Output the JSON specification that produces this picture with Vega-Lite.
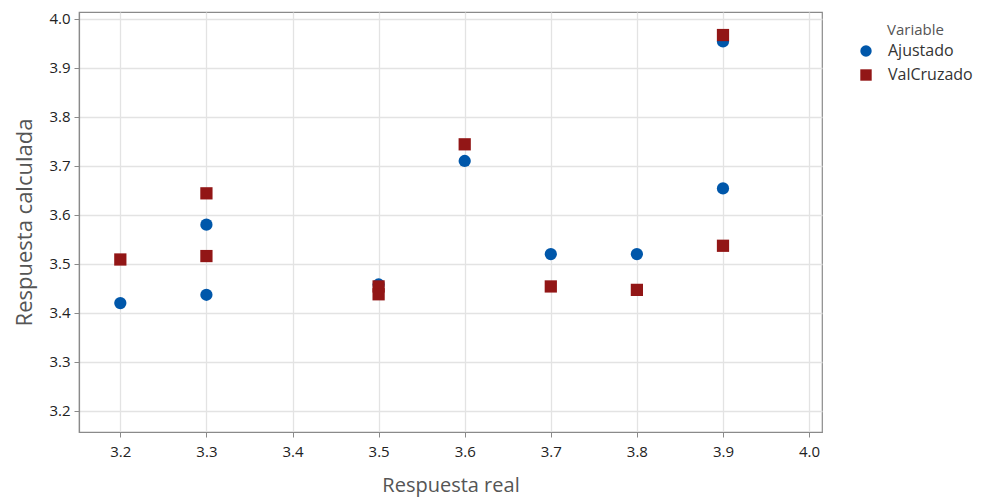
{
  "$schema": "https://vega.github.io/schema/vega-lite/v6.json",
  "autosize": "none",
  "width": 743,
  "height": 420,
  "padding": {"left": 79, "top": 12, "right": 164, "bottom": 68},
  "background": "white",
  "config": {
    "font": "Open Sans",
    "view": {"stroke": "#8a8a8a", "strokeWidth": 1.2},
    "axis": {
      "gridColor": "#e3e3e3",
      "gridWidth": 1.3,
      "domainColor": "#8a8a8a",
      "domainWidth": 1.2,
      "tickColor": "#8a8a8a",
      "tickSize": 5,
      "labelFontSize": 15,
      "labelColor": "#222222",
      "titleFontWeight": "normal",
      "titleColor": "#555555"
    }
  },
  "data": {
    "values": [
      {"real": 3.2, "calc": 3.42, "Variable": "Ajustado"},
      {"real": 3.3, "calc": 3.58, "Variable": "Ajustado"},
      {"real": 3.3, "calc": 3.437, "Variable": "Ajustado"},
      {"real": 3.5, "calc": 3.458, "Variable": "Ajustado"},
      {"real": 3.6, "calc": 3.71, "Variable": "Ajustado"},
      {"real": 3.7, "calc": 3.52, "Variable": "Ajustado"},
      {"real": 3.8, "calc": 3.52, "Variable": "Ajustado"},
      {"real": 3.9, "calc": 3.954, "Variable": "Ajustado"},
      {"real": 3.9, "calc": 3.654, "Variable": "Ajustado"},
      {"real": 3.2, "calc": 3.509, "Variable": "ValCruzado"},
      {"real": 3.3, "calc": 3.644, "Variable": "ValCruzado"},
      {"real": 3.3, "calc": 3.516, "Variable": "ValCruzado"},
      {"real": 3.5, "calc": 3.454, "Variable": "ValCruzado"},
      {"real": 3.5, "calc": 3.438, "Variable": "ValCruzado"},
      {"real": 3.6, "calc": 3.744, "Variable": "ValCruzado"},
      {"real": 3.7, "calc": 3.454, "Variable": "ValCruzado"},
      {"real": 3.8, "calc": 3.447, "Variable": "ValCruzado"},
      {"real": 3.9, "calc": 3.967, "Variable": "ValCruzado"},
      {"real": 3.9, "calc": 3.537, "Variable": "ValCruzado"}
    ]
  },
  "mark": {"type": "point", "filled": true, "opacity": 1, "size": 150},
  "encoding": {
    "x": {
      "field": "real",
      "type": "quantitative",
      "title": "Respuesta real",
      "scale": {"domain": [3.152, 4.015], "nice": false, "zero": false},
      "axis": {"values": [3.2, 3.3, 3.4, 3.5, 3.6, 3.7, 3.8, 3.9, 4.0], "format": ".1f", "labelPadding": 7, "titlePadding": 16, "titleFontSize": 20}
    },
    "y": {
      "field": "calc",
      "type": "quantitative",
      "title": "Respuesta calculada",
      "scale": {"domain": [3.157, 4.014], "nice": false, "zero": false},
      "axis": {"values": [3.2, 3.3, 3.4, 3.5, 3.6, 3.7, 3.8, 3.9, 4.0], "format": ".1f", "labelPadding": 4, "titlePadding": 12, "titleFontSize": 22}
    },
    "color": {
      "field": "Variable",
      "type": "nominal",
      "scale": {"domain": ["Ajustado", "ValCruzado"], "range": ["#0057aa", "#921616"]},
      "legend": {
        "orient": "none",
        "legendX": 808,
        "legendY": 11,
        "titleFontSize": 15,
        "titleFontWeight": "normal",
        "titleColor": "#555555",
        "labelFontSize": 16,
        "labelColor": "#333333",
        "rowPadding": 8,
        "symbolSize": 130,
        "symbolOffset": -29,
        "labelOffset": 14,
        "titlePadding": 5
      }
    },
    "shape": {
      "field": "Variable",
      "type": "nominal",
      "scale": {"domain": ["Ajustado", "ValCruzado"], "range": ["circle", "square"]}
    }
  }
}
